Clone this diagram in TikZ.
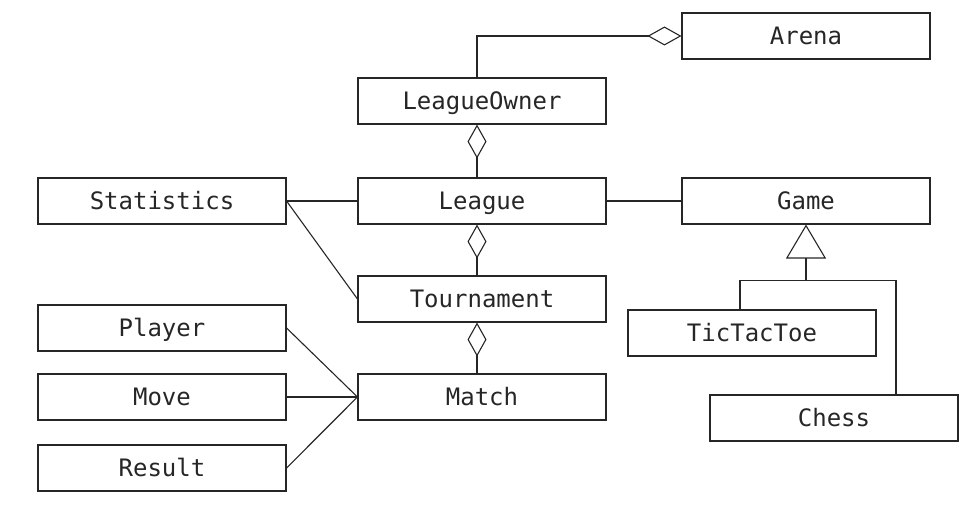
\documentclass[tikz,border=0pt]{standalone}
\usepackage{fontspec}
\setmonofont{DejaVu Sans Mono}
\usepackage{tikz}
\usetikzlibrary{arrows.meta, positioning}
\tikzset{
  class/.style={draw, rectangle, minimum width=248pt, minimum height=46pt,
    inner sep=0pt, text height=17pt, text depth=0pt,
    font=\ttfamily\fontsize{24}{24}\selectfont},
  aggregation/.style={{Diamond[open, length=34pt, width=19pt]}-},
  generalization/.style={-{Triangle[open, length=34pt, width=40pt]}}
}

\begin{document}
\begin{tikzpicture}[x=1pt, y=-1pt, line width=1.1pt, black!85]
\useasboundingbox (0,0) rectangle (976,518);
\node[class] (league) at (482,201) {League};
\node[class, left of=league, node distance=320pt] (statistics) {Statistics};
\node[class, right of=league, node distance=324pt] (game) {Game};
\node[class, above of=league, node distance=100pt] (owner) {LeagueOwner};
\node[class, above of=game, node distance=165pt] (arena) {Arena};
\node[class, below of=league, node distance=98pt] (tournament) {Tournament};
\node[class, below of=tournament, node distance=98pt] (match) {Match};
\node[class, left of=match, node distance=320pt] (move) {Move};
\node[class, above of=move, node distance=69pt] (player) {Player};
\node[class, below of=move, node distance=71pt] (result) {Result};
\node[class] (tictactoe) at (752,333) {TicTacToe};
\node[class] (chess) at (834,418) {Chess};
\coordinate (split) at ([yshift=-56pt]game.south);

\draw[aggregation] (arena.west) -| ([xshift=-5pt]owner.north);
\draw[aggregation] ([xshift=-5pt]owner.south) -- ([xshift=-5pt]league.north);
\draw[aggregation] ([xshift=-5pt]league.south) -- ([xshift=-5pt]tournament.north);
\draw[aggregation] ([xshift=-5pt]tournament.south) -- ([xshift=-5pt]match.north);

\draw (statistics.east) -- (league.west);
\draw (statistics.east) -- (tournament.west);
\draw (league.east) -- (game.west);

\draw (player.east) -- (match.west);
\draw (move.east) -- (match.west);
\draw (result.east) -- (match.west);

\draw[generalization] (split) -- (game.south);
\draw ([xshift=-12pt]tictactoe.north) |- (split) -| ([xshift=62pt]chess.north);
\end{tikzpicture}
\end{document}
